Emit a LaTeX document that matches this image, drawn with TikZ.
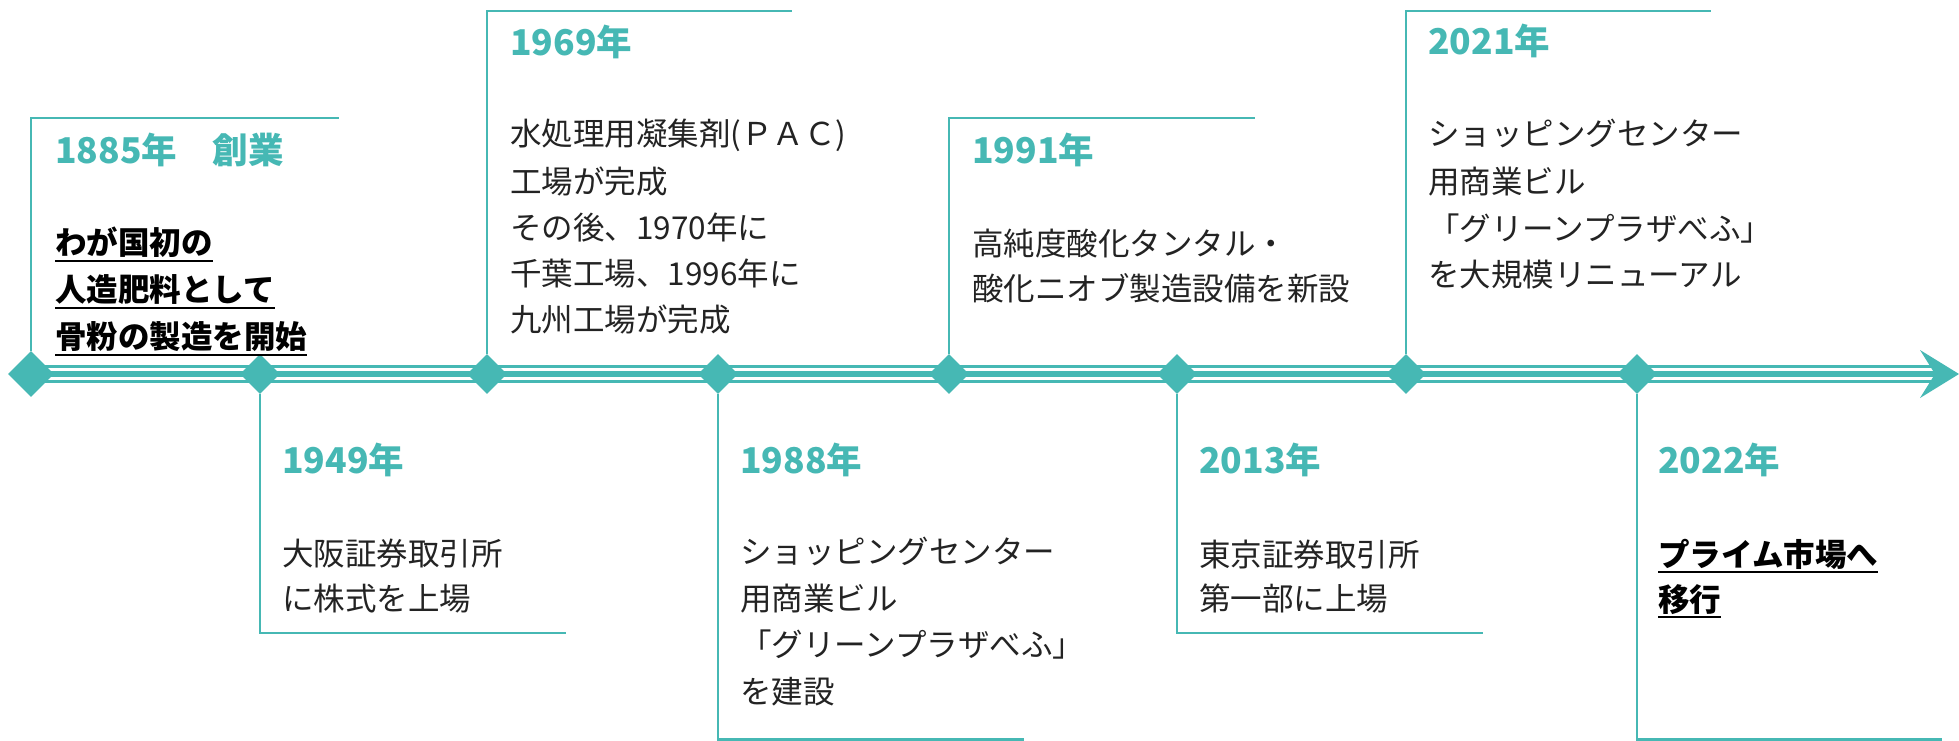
\documentclass[tikz,border=0pt]{standalone}
\usepackage{fontspec}
\setmainfont{Noto Sans CJK JP}
\usetikzlibrary{shapes.geometric}
\definecolor{teal1}{RGB}{70,184,180}
\definecolor{ink}{RGB}{35,35,35}
\begin{document}
\begin{tikzpicture}[x=1pt,y=-1pt,
  tl/.style={line width=2.5pt, draw=teal1},
  dia/.style={diamond, fill=teal1, inner sep=0pt, minimum width=40pt, minimum height=40pt},
  yr/.style={anchor=base west, inner sep=0pt, font=\fontsize{35.5}{35.5}\selectfont\bfseries, text=teal1},
  body/.style={anchor=base west, inner sep=0pt, font=\fontsize{31.5}{31.5}\selectfont, text=ink},
  bb/.style={anchor=base west, inner sep=0pt, font=\fontsize{31.5}{31.5}\selectfont\bfseries, text=black},
  ul/.style={line width=2pt, draw=black}
]
\fill[white] (0,0) rectangle (1959,741);
\useasboundingbox (0,0) rectangle (1959,741);

% timeline
\coordinate (s) at (31,374);
\coordinate (sa) at (31,366.5);
\coordinate (sb) at (31,381.5);
\coordinate (a) at (1937,374);
\coordinate (aa) at (1932,366.5);
\coordinate (ab) at (1932,381.5);
\draw[teal1, line width=6pt] (s) -- (a);
\draw[teal1, line width=2.2pt] (sa) -- (aa);
\draw[teal1, line width=2.2pt] (sb) -- (ab);
\coordinate (h1) at (1920,350);
\coordinate (h2) at (1959,374);
\coordinate (h3) at (1920,398);
\coordinate (h4) at (1935,374);
\fill[teal1] (h1) -- (h2) -- (h3) -- (h4) -- cycle;

% diamonds
\node[dia, minimum width=46pt, minimum height=46pt] (d1) at (31,374) {};
\node[dia] (d2) at (260,374) {};
\node[dia] (d3) at (487,374) {};
\node[dia] (d4) at (718,374) {};
\node[dia] (d5) at (949,374) {};
\node[dia] (d6) at (1177,374) {};
\node[dia] (d7) at (1406,374) {};
\node[dia] (d8) at (1637,374) {};

% box corners
\coordinate (e1) at (339,118);
\coordinate (e2) at (566,633);
\coordinate (e3) at (792,11);
\coordinate (e4) at (1024,739.5);
\coordinate (e5) at (1255,118);
\coordinate (e6) at (1483,633);
\coordinate (e7) at (1711,11);
\coordinate (e8) at (1942,739.5);
\draw[tl] (d1) |- (e1);
\draw[tl] (d2) |- (e2);
\draw[tl] (d3) |- (e3);
\draw[tl] (d4) |- (e4);
\draw[tl] (d5) |- (e5);
\draw[tl] (d6) |- (e6);
\draw[tl] (d7) |- (e7);
\draw[tl] (d8) |- (e8);

% 1885
\node[yr] (y1) at (55,163) {1885年　創業};
\node[bb] (b1a) at (55,254.5) {わが国初の};
\node[bb] (b1b) at (55,301) {人造肥料として};
\node[bb] (b1c) at (55,348) {骨粉の製造を開始};
\draw[ul] ([yshift=-6.5pt]b1a.base west) -- ([yshift=-6.5pt]b1a.base east);
\draw[ul] ([yshift=-6.5pt]b1b.base west) -- ([yshift=-6.5pt]b1b.base east);
\draw[ul] ([yshift=-6.5pt]b1c.base west) -- ([yshift=-6.5pt]b1c.base east);

% 1949
\node[yr] (y2) at (282,473) {1949年};
\node[body] (t2a) at (282,565) {大阪証券取引所};
\node[body] (t2b) at (282,610) {に株式を上場};

% 1969
\node[yr] (y3) at (510,56) {1969年};
\node[body] (t3a) at (510,146) {水処理用凝集剤(ＰＡＣ)};
\node[body] (t3b) at (510,193) {工場が完成};
\node[body] (t3c) at (510,239) {その後、1970年に};
\node[body] (t3d) at (510,285) {千葉工場、1996年に};
\node[body] (t3e) at (510,331) {九州工場が完成};

% 1988
\node[yr] (y4) at (740,473) {1988年};
\node[body] (t4a) at (740,563) {ショッピングセンター};
\node[body] (t4b) at (740,610) {用商業ビル};
\node[body] (t4c) at (740,656) {「グリーンプラザべふ」};
\node[body] (t4d) at (740,703) {を建設};

% 1991
\node[yr] (y5) at (972,163) {1991年};
\node[body] (t5a) at (972,255) {高純度酸化タンタル・};
\node[body] (t5b) at (972,300) {酸化ニオブ製造設備を新設};

% 2013
\node[yr] (y6) at (1199,473) {2013年};
\node[body] (t6a) at (1199,566) {東京証券取引所};
\node[body] (t6b) at (1199,610) {第一部に上場};

% 2021
\node[yr] (y7) at (1428,55) {2021年};
\node[body] (t7a) at (1428,146) {ショッピングセンター};
\node[body] (t7b) at (1428,193) {用商業ビル};
\node[body] (t7c) at (1428,240) {「グリーンプラザべふ」};
\node[body] (t7d) at (1428,286) {を大規模リニューアル};

% 2022
\node[yr] (y8) at (1658,473) {2022年};
\node[bb] (b8a) at (1658,566) {プライム市場へ};
\node[bb] (b8b) at (1658,611) {移行};
\draw[ul] ([yshift=-6pt]b8a.base west) -- ([yshift=-6pt]b8a.base east);
\draw[ul] ([yshift=-6pt]b8b.base west) -- ([yshift=-6pt]b8b.base east);
\end{tikzpicture}
\end{document}
